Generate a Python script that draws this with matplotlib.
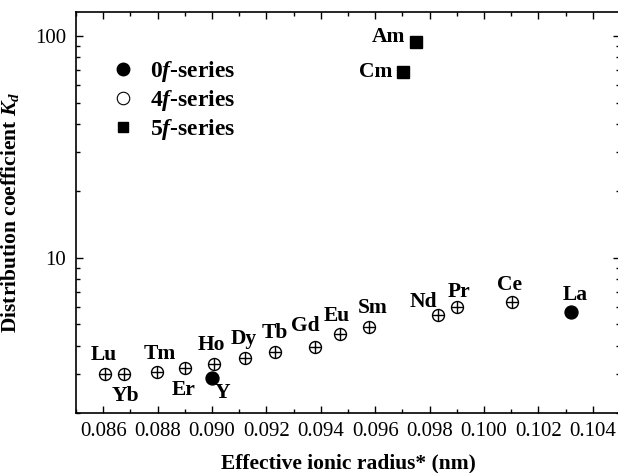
import matplotlib
matplotlib.use("Agg")
import matplotlib.pyplot as plt
from matplotlib.ticker import LogLocator, NullFormatter, FixedLocator, MultipleLocator
from matplotlib.lines import Line2D

plt.rcParams['font.family'] = 'Liberation Serif'
plt.rcParams['mathtext.fontset'] = 'custom'
plt.rcParams['mathtext.rm'] = 'Liberation Serif:bold'
plt.rcParams['mathtext.it'] = 'Liberation Serif:bold:italic'
plt.rcParams['mathtext.bf'] = 'Liberation Serif:bold'

# 4f-series (lanthanides)
ln_names = ['Lu', 'Yb', 'Tm', 'Er', 'Ho', 'Dy', 'Tb', 'Gd', 'Eu', 'Sm', 'Nd', 'Pr', 'Ce']
ln_radius = [0.08607, 0.08678, 0.08799, 0.08901, 0.09007, 0.09122, 0.0923,
             0.09378, 0.09471, 0.09579, 0.09832, 0.09902, 0.10102]
ln_kd = [2.98, 3.0, 3.05, 3.18, 3.32, 3.54, 3.76, 3.94, 4.53, 4.89, 5.51, 6.01, 6.33]

# 0f-series
f0_names = ['Y', 'La']
f0_radius = [0.08999, 0.10321]
f0_kd = [2.88, 5.69]

# 5f-series (actinides)
an_names = ['Am', 'Cm']
an_radius = [0.09751, 0.09702]
an_kd = [93.7, 68.6]

# label offsets in pixels (dx, dy up)
offsets = {
    'Lu': (-1, 19), 'Yb': (1, -22), 'Tm': (2, 18), 'Er': (-1, -22), 'Ho': (-2, 19),
    'Y': (11, -15), 'Dy': (-1, 19), 'Tb': (0, 19), 'Gd': (-10, 21), 'Eu': (-3, 18),
    'Sm': (3, 19), 'Nd': (-15, 13), 'Pr': (2, 15), 'Ce': (-2, 17), 'La': (4, 17),
    'Am': (-28, 5), 'Cm': (-27, 0),
}

fig = plt.figure(figsize=(6.18, 4.73), dpi=100)
ax = fig.add_axes([76 / 618, 1 - 412.7 / 473, 544 / 618, 400.7 / 473])

ax.plot(ln_radius, ln_kd, 'o', ms=8.6, mfc='white', mec='black', mew=1.0, ls='none')
ax.plot(ln_radius, ln_kd, '+', ms=8.6, color='black', mew=1.0, ls='none')
ax.plot(f0_radius, f0_kd, 'o', ms=9.3, color='black', ls='none')
ax.plot(an_radius, an_kd, 's', ms=8.0, color='black', ls='none')

for names, xs, ys in [(ln_names, ln_radius, ln_kd), (f0_names, f0_radius, f0_kd),
                      (an_names, an_radius, an_kd)]:
    for n, x, y in zip(names, xs, ys):
        dx, dy = offsets[n]
        ax.annotate(n, (x, y), xytext=(dx, dy), textcoords='offset pixels',
                    ha='center', va='center', fontsize=15.5, fontweight='bold')

ax.set_yscale('log')
ax.set_xlim(0.085, 0.105)
ax.set_ylim(2, 128)
ax.xaxis.set_major_locator(FixedLocator([0.086, 0.088, 0.090, 0.092, 0.094, 0.096,
                                         0.098, 0.100, 0.102, 0.104]))
ax.xaxis.set_minor_locator(MultipleLocator(0.001))
ax.set_xticklabels(['0.086', '0.088', '0.090', '0.092', '0.094', '0.096',
                    '0.098', '0.100', '0.102', '0.104'])
ax.yaxis.set_major_locator(FixedLocator([10, 100]))
ax.set_yticklabels(['10', '100'])
ax.yaxis.set_minor_locator(LogLocator(base=10, subs=range(2, 10)))
ax.yaxis.set_minor_formatter(NullFormatter())

ax.tick_params(which='both', direction='in', top=True, right=True, labelsize=15, width=1.0)
ax.tick_params(which='major', length=5, pad=7)
ax.tick_params(which='minor', length=3)
for s in ax.spines.values():
    s.set_linewidth(1.2)

ax.set_xlabel('Effective ionic radius* (nm)', fontsize=15.5, fontweight='bold', labelpad=9)
ax.set_ylabel('Distribution coefficient $K_d$', fontsize=15.5, fontweight='bold', labelpad=10)

handles = [
    Line2D([], [], marker='o', ls='none', color='black', ms=9),
    Line2D([], [], marker='o', ls='none', mfc='white', mec='black', ms=9, mew=0.8),
    Line2D([], [], marker='s', ls='none', color='black', ms=7.5),
]
labels = ['0$f$-series', '4$f$-series', '5$f$-series']
leg = ax.legend(handles, labels, loc='upper left', bbox_to_anchor=(0.004, 0.935),
                frameon=False, handletextpad=0.16, labelspacing=0.165,
                prop={'size': 17, 'weight': 'bold'})

fig.savefig('out.png', dpi=100)
